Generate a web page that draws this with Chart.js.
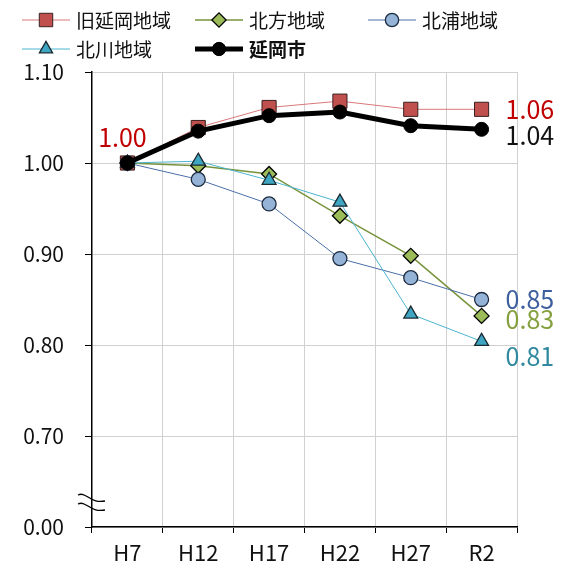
<!DOCTYPE html>
<html lang="ja">
<head>
<meta charset="UTF-8">
<script src="https://cdn.jsdelivr.net/npm/chart.js"></script>
<title>延岡市 地域別指数</title>
<style>
    body { margin: 0; background: #fff; }
    #wrap { width: 565px; height: 563px; }
</style>
</head>
<body>
<div id="wrap"><canvas id="chart" width="565" height="563"></canvas></div>
<script>
    // 値（H7 = 1.00）
    const categories = ['H7', 'H12', 'H17', 'H22', 'H27', 'R2'];
    const kyuNobeoka = [1.000, 1.039, 1.061, 1.068, 1.059, 1.059];
    const kitakata = [1.000, 0.997, 0.988, 0.942, 0.898, 0.832];
    const kitaura = [1.000, 0.982, 0.955, 0.895, 0.874, 0.850];
    const kitagawa = [1.000, 1.002, 0.981, 0.957, 0.834, 0.804];
    const nobeokaCity = [1.000, 1.035, 1.052, 1.056, 1.041, 1.037];
    const seriesNames = ['旧延岡地域', '北方地域', '北浦地域', '北川地域', '延岡市'];
    const yTickValues = [0.6, 0.7, 0.8, 0.9, 1.0, 1.1];
    const yTickLabels = ['0.00', '0.70', '0.80', '0.90', '1.00', '1.10'];

    const FONT = '"Noto Sans CJK JP", "Noto Sans", sans-serif';

    // order: 後の系列ほど手前に描く
    const datasets = [
        { label: seriesNames[0], data: kyuNobeoka, borderColor: '#d9787a', borderWidth: 1,
          pointStyle: 'rect', pointRadius: 10, pointBackgroundColor: '#c0504d', pointBorderColor: '#3a2020',
          pointBorderWidth: 1, order: 4, endLabel: { text: '1.06', color: '#c00000', dy: 0 } },
        { label: seriesNames[1], data: kitakata, borderColor: '#77933c', borderWidth: 1.5,
          pointStyle: 'rectRot', pointRadius: 7.5, pointBackgroundColor: '#9bbb59', pointBorderColor: '#000',
          pointBorderWidth: 1.3, order: 3, endLabel: { text: '0.83', color: '#84a13e', dy: 4 } },
        { label: seriesNames[2], data: kitaura, borderColor: '#4a6fa8', borderWidth: 1,
          pointStyle: 'circle', pointRadius: 7, pointBackgroundColor: '#95b3d7', pointBorderColor: '#1c2a40',
          pointBorderWidth: 1.3, order: 2, endLabel: { text: '0.85', color: '#3d5f9e', dy: 0 } },
        { label: seriesNames[3], data: kitagawa, borderColor: '#4bb5d0', borderWidth: 1,
          pointStyle: 'triangle', pointRadius: 8, pointBackgroundColor: '#3ea6c2', pointBorderColor: '#1a2a30',
          pointBorderWidth: 1.3, order: 1, endLabel: { text: '0.81', color: '#31899f', dy: 15 } },
        { label: seriesNames[4], data: nobeokaCity, borderColor: '#000', borderWidth: 5,
          pointStyle: 'circle', pointRadius: 7, pointBackgroundColor: '#000', pointBorderColor: '#000',
          pointBorderWidth: 1, order: 0, endLabel: { text: '1.04', color: '#111', dy: 6 } }
    ];

    // 凡例（線＋マーカー）
    const legendPos = [[22, 20], [195, 20], [368, 20], [22, 49], [195, 49]];
    const legendPlugin = {
        id: 'lineLegend',
        afterDraw(chart) {
            const ctx = chart.ctx;
            datasets.forEach((ds, i) => {
                const [x0, y] = legendPos[i];
                ctx.save();
                ctx.strokeStyle = ds.borderColor;
                ctx.lineWidth = ds.borderWidth;
                ctx.beginPath();
                ctx.moveTo(x0, y);
                ctx.lineTo(x0 + 48, y);
                ctx.stroke();
                ctx.fillStyle = ds.pointBackgroundColor;
                ctx.strokeStyle = ds.pointBorderColor;
                ctx.lineWidth = ds.pointBorderWidth;
                Chart.helpers.drawPoint(ctx, {
                    pointStyle: ds.pointStyle, radius: ds.pointRadius * 0.95, rotation: 0,
                    borderWidth: ds.pointBorderWidth
                }, x0 + 24, y);
                ctx.fillStyle = '#111';
                ctx.font = (i === 4 ? 'bold ' : '') + '19px ' + FONT;
                ctx.textBaseline = 'middle';
                ctx.textAlign = 'left';
                ctx.fillText(ds.label, x0 + 54, y + 1);
                ctx.restore();
            });
        }
    };

    // 数値ラベル
    const labelPlugin = {
        id: 'valueLabels',
        afterDatasetsDraw(chart) {
            const ctx = chart.ctx;
            ctx.save();
            ctx.font = '25px ' + FONT;
            ctx.textBaseline = 'middle';
            chart.data.datasets.forEach((ds, i) => {
                const meta = chart.getDatasetMeta(i);
                const last = meta.data[meta.data.length - 1];
                ctx.fillStyle = ds.endLabel.color;
                ctx.textAlign = 'left';
                ctx.fillText(ds.endLabel.text, last.x + 24, last.y + ds.endLabel.dy);
            });
            const first = chart.getDatasetMeta(0).data[0];
            ctx.fillStyle = '#c00000';
            ctx.textAlign = 'center';
            ctx.fillText('1.00', first.x - 5, first.y - 26);
            ctx.restore();
        }
    };

    // 縦軸の省略記号
    const breakPlugin = {
        id: 'axisBreak',
        afterDraw(chart) {
            const ctx = chart.ctx;
            const x = chart.chartArea.left;
            ctx.save();
            ctx.strokeStyle = '#000';
            ctx.lineWidth = 1.3;
            [495, 504].forEach(y => {
                ctx.beginPath();
                ctx.moveTo(x - 14, y);
                ctx.bezierCurveTo(x - 6, y - 4, x - 2, y + 9, x + 13, y + 6);
                ctx.stroke();
            });
            ctx.restore();
        }
    };

    new Chart(document.getElementById('chart'), {
        type: 'line',
        data: { labels: categories, datasets: datasets },
        options: {
            responsive: false,
            animation: false,
            devicePixelRatio: 1,
            layout: { padding: { top: 72, right: 48, bottom: 0, left: 0 } },
            plugins: { legend: { display: false }, tooltip: { enabled: false } },
            elements: { line: { tension: 0 } },
            scales: {
                x: {
                    offset: true,
                    grid: { offset: true, color: '#d0d0d0', tickColor: '#000', tickLength: 6, lineWidth: 1 },
                    border: { color: '#000', width: 1.5 },
                    ticks: { color: '#111', padding: 6, font: { family: FONT, size: 22 } },
                    afterFit(scale) { scale.height = 36; }
                },
                y: {
                    min: yTickValues[0],
                    max: yTickValues[yTickValues.length - 1],
                    afterBuildTicks(scale) {
                        scale.ticks = yTickValues.map(v => ({ value: v }));
                    },
                    grid: { color: '#d0d0d0', tickColor: '#000', tickLength: 7, lineWidth: 1 },
                    border: { color: '#000', width: 1.5 },
                    ticks: {
                        color: '#111', padding: 21, font: { family: FONT, size: 21 },
                        callback: function (value, index) { return yTickLabels[index]; }
                    },
                    afterFit(scale) { scale.width = 92; }
                }
            }
        },
        plugins: [labelPlugin, breakPlugin, legendPlugin]
    });
</script>
</body>
</html>
